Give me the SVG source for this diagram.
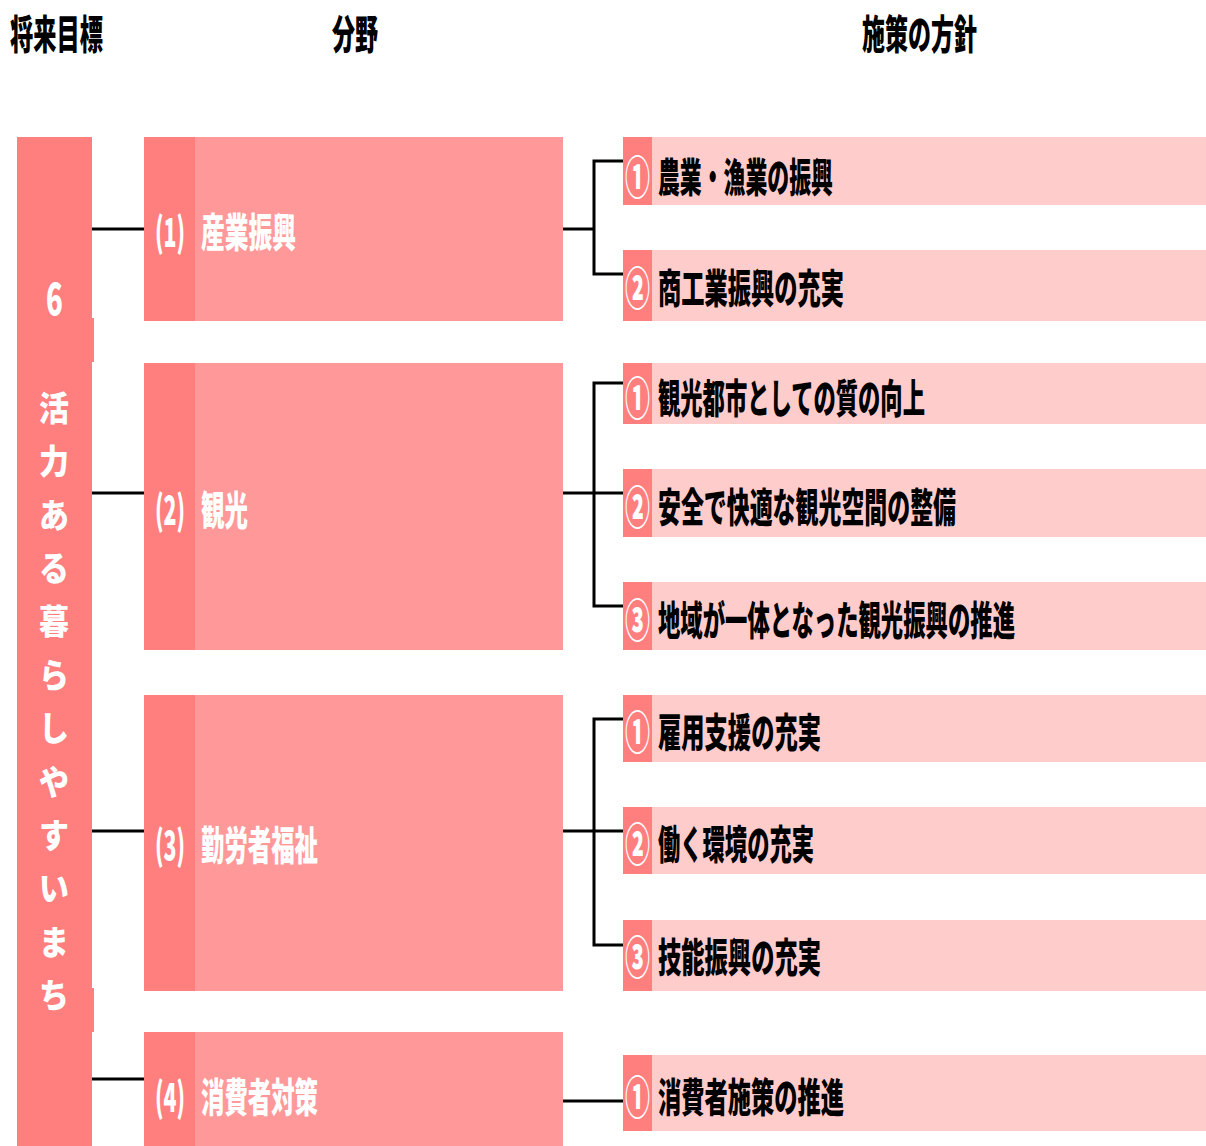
<svg xmlns="http://www.w3.org/2000/svg" width="1206" height="1146" viewBox="0 0 1206 1146">
<style>
text{font-family:"Noto Sans CJK JP","Noto Sans CJK SC",sans-serif;font-weight:900}
.hd{font-size:40px;fill:#000}
.wt{font-size:40px;fill:#fff}
.bk{font-size:40px;fill:#000}
.num{font-size:46px;fill:#fff}
.vt{font-size:34px;fill:#fff}
.dark{fill:#FF7F7F}
.mid{fill:#FF9999}
.light{fill:#FFCCCC}
.conn path{fill:none;stroke:#000;stroke-width:3}
</style>
<rect width="1206" height="1146" fill="#fff"/>
<g id="headers">
<text class="hd" transform="translate(10,49) scale(0.58,1)" textLength="160.3" lengthAdjust="spacingAndGlyphs">将来目標</text>
<text class="hd" transform="translate(332,49) scale(0.58,1)" textLength="79.3" lengthAdjust="spacingAndGlyphs">分野</text>
<text class="hd" transform="translate(862,49) scale(0.58,1)" textLength="198.3" lengthAdjust="spacingAndGlyphs">施策の方針</text>
</g>
<g id="goal">
<rect class="dark" x="17" y="137" width="75" height="1009"/>
<rect class="dark" x="17" y="318" width="77" height="44"/>
<rect class="dark" x="17" y="988" width="77" height="44"/>
<text class="wt" style="font-size:44px" transform="translate(46,315) scale(0.7,1)" textLength="24" lengthAdjust="spacingAndGlyphs">6</text>
<text class="vt" transform="translate(54,0) scale(0.88,1)" text-anchor="middle"><tspan x="0" y="421">活</tspan><tspan x="0" y="474">力</tspan><tspan x="0" y="528">あ</tspan><tspan x="0" y="581">る</tspan><tspan x="0" y="634">暮</tspan><tspan x="0" y="688">ら</tspan><tspan x="0" y="741">し</tspan><tspan x="0" y="795">や</tspan><tspan x="0" y="848">す</tspan><tspan x="0" y="901">い</tspan><tspan x="0" y="955">ま</tspan><tspan x="0" y="1008">ち</tspan></text>
</g>
<g id="field1">
<rect class="mid" x="144" y="137" width="419" height="184"/>
<rect class="dark" x="144" y="137" width="51" height="184"/>
<text class="wt" transform="translate(155,247) scale(0.58,1)" textLength="51.7" lengthAdjust="spacingAndGlyphs">(1)</text>
<text class="wt" transform="translate(201,247) scale(0.58,1)" textLength="163.8" lengthAdjust="spacingAndGlyphs">産業振興</text>
</g>
<g id="field2">
<rect class="mid" x="144" y="363" width="419" height="287"/>
<rect class="dark" x="144" y="363" width="51" height="287"/>
<text class="wt" transform="translate(155,525) scale(0.58,1)" textLength="51.7" lengthAdjust="spacingAndGlyphs">(2)</text>
<text class="wt" transform="translate(201,525) scale(0.58,1)" textLength="81" lengthAdjust="spacingAndGlyphs">観光</text>
</g>
<g id="field3">
<rect class="mid" x="144" y="695" width="419" height="296"/>
<rect class="dark" x="144" y="695" width="51" height="296"/>
<text class="wt" transform="translate(155,860) scale(0.58,1)" textLength="51.7" lengthAdjust="spacingAndGlyphs">(3)</text>
<text class="wt" transform="translate(201,860) scale(0.58,1)" textLength="201.7" lengthAdjust="spacingAndGlyphs">勤労者福祉</text>
</g>
<g id="field4">
<rect class="mid" x="144" y="1032" width="419" height="114"/>
<rect class="dark" x="144" y="1032" width="51" height="114"/>
<text class="wt" transform="translate(155,1112) scale(0.58,1)" textLength="51.7" lengthAdjust="spacingAndGlyphs">(4)</text>
<text class="wt" transform="translate(201,1112) scale(0.58,1)" textLength="201.7" lengthAdjust="spacingAndGlyphs">消費者対策</text>
</g>
<g id="p1-1">
<rect class="light" x="623" y="137" width="583" height="68"/>
<rect class="dark" x="623" y="137" width="29" height="68"/>
<text class="num" transform="translate(625,194) scale(0.58,1)" textLength="43" lengthAdjust="spacingAndGlyphs">①</text>
<text class="bk" transform="translate(658,192) scale(0.58,1)" textLength="301.7" lengthAdjust="spacingAndGlyphs">農業・漁業の振興</text>
</g>
<g id="p1-2">
<rect class="light" x="623" y="250" width="583" height="71"/>
<rect class="dark" x="623" y="250" width="29" height="71"/>
<text class="num" transform="translate(625,305) scale(0.58,1)" textLength="43" lengthAdjust="spacingAndGlyphs">②</text>
<text class="bk" transform="translate(658,303) scale(0.58,1)" textLength="320.7" lengthAdjust="spacingAndGlyphs">商工業振興の充実</text>
</g>
<g id="p2-1">
<rect class="light" x="623" y="363" width="583" height="61"/>
<rect class="dark" x="623" y="363" width="29" height="61"/>
<text class="num" transform="translate(625,415) scale(0.58,1)" textLength="43" lengthAdjust="spacingAndGlyphs">①</text>
<text class="bk" transform="translate(658,413) scale(0.58,1)" textLength="460.3" lengthAdjust="spacingAndGlyphs">観光都市としての質の向上</text>
</g>
<g id="p2-2">
<rect class="light" x="623" y="469" width="583" height="68"/>
<rect class="dark" x="623" y="469" width="29" height="68"/>
<text class="num" transform="translate(625,524) scale(0.58,1)" textLength="43" lengthAdjust="spacingAndGlyphs">②</text>
<text class="bk" transform="translate(658,522) scale(0.58,1)" textLength="513.8" lengthAdjust="spacingAndGlyphs">安全で快適な観光空間の整備</text>
</g>
<g id="p2-3">
<rect class="light" x="623" y="582" width="583" height="68"/>
<rect class="dark" x="623" y="582" width="29" height="68"/>
<text class="num" transform="translate(625,637) scale(0.58,1)" textLength="43" lengthAdjust="spacingAndGlyphs">③</text>
<text class="bk" transform="translate(658,635) scale(0.58,1)" textLength="615.5" lengthAdjust="spacingAndGlyphs">地域が一体となった観光振興の推進</text>
</g>
<g id="p3-1">
<rect class="light" x="623" y="695" width="583" height="67"/>
<rect class="dark" x="623" y="695" width="29" height="67"/>
<text class="num" transform="translate(625,749) scale(0.58,1)" textLength="43" lengthAdjust="spacingAndGlyphs">①</text>
<text class="bk" transform="translate(658,747) scale(0.58,1)" textLength="281" lengthAdjust="spacingAndGlyphs">雇用支援の充実</text>
</g>
<g id="p3-2">
<rect class="light" x="623" y="807" width="583" height="67"/>
<rect class="dark" x="623" y="807" width="29" height="67"/>
<text class="num" transform="translate(625,861) scale(0.58,1)" textLength="43" lengthAdjust="spacingAndGlyphs">②</text>
<text class="bk" transform="translate(658,859) scale(0.58,1)" textLength="269" lengthAdjust="spacingAndGlyphs">働く環境の充実</text>
</g>
<g id="p3-3">
<rect class="light" x="623" y="920" width="583" height="71"/>
<rect class="dark" x="623" y="920" width="29" height="71"/>
<text class="num" transform="translate(625,974) scale(0.58,1)" textLength="43" lengthAdjust="spacingAndGlyphs">③</text>
<text class="bk" transform="translate(658,972) scale(0.58,1)" textLength="281" lengthAdjust="spacingAndGlyphs">技能振興の充実</text>
</g>
<g id="p4-1">
<rect class="light" x="623" y="1055" width="583" height="76"/>
<rect class="dark" x="623" y="1055" width="29" height="76"/>
<text class="num" transform="translate(625,1114) scale(0.58,1)" textLength="43" lengthAdjust="spacingAndGlyphs">①</text>
<text class="bk" transform="translate(658,1112) scale(0.58,1)" textLength="320.7" lengthAdjust="spacingAndGlyphs">消費者施策の推進</text>
</g>
<g id="connectors" class="conn">
<path d="M92 229H144"/>
<path d="M92 493H144"/>
<path d="M92 831H144"/>
<path d="M92 1079H144"/>
<path d="M563 229H594"/>
<path d="M623 161H594V274H623"/>
<path d="M563 493H623"/>
<path d="M623 383H594V606H623"/>
<path d="M563 831H623"/>
<path d="M623 719H594V945H623"/>
<path d="M563 1101H623"/>
</g>
</svg>
